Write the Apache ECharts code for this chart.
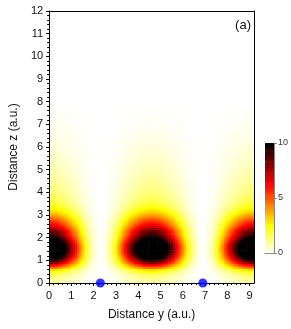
<!DOCTYPE html>
<html><head><meta charset="utf-8">
<script src="https://cdn.jsdelivr.net/npm/echarts@6/dist/echarts.min.js"></script>
<style>html,body{margin:0;padding:0;background:#fff}#c{width:291px;height:329px}</style>
</head><body><div id="c"></div>
<script>
// Intensity along y (a.u.), sampled every 0.1 from 0 to 9.2 (relative, peak = 1)
const yStep = 0.1;
const intensityAlongY = [
 1.00,0.99,0.98,0.96,0.93,0.89,0.84,0.79,0.73,0.67,0.60,0.53,0.47,0.40,0.33,0.27,0.21,0.16,0.11,0.07,0.04,0.02,0.01,0.00,
 0.01,0.02,0.04,0.07,0.11,0.16,0.21,0.27,0.33,0.40,0.47,0.53,0.60,0.67,0.73,0.79,0.84,0.89,0.93,0.96,0.98,0.99,1.00,
 0.99,0.98,0.96,0.93,0.89,0.84,0.79,0.73,0.67,0.60,0.53,0.47,0.40,0.33,0.27,0.21,0.16,0.11,0.07,0.04,0.02,0.01,0.00,
 0.01,0.02,0.04,0.07,0.11,0.16,0.21,0.27,0.33,0.40,0.47,0.53,0.60,0.67,0.73,0.79,0.84,0.89,0.93,0.96,0.98,0.99,1.00
];
// Intensity along z (a.u.) at lobe centre, sampled every 0.1 from 0 to 8
const zStep = 0.1;
const intensityAlongZ = [
 0.8,0.9,1.1,1.3,1.7,2.3,3.1,4.8,6.4,8.0,
 9.3,10.5,11.5,12.3,12.8,13.0,12.9,12.6,12.0,11.2,
 10.3,9.6,9.0,8.6,7.8,7.1,6.4,5.8,5.2,4.6,
 4.0,3.4,3.0,2.6,2.3,2.05,1.85,1.7,1.55,1.45,
 1.35,1.28,1.2,1.13,1.07,1.0,0.95,0.9,0.85,0.8,
 0.75,0.7,0.66,0.62,0.58,0.54,0.5,0.46,0.43,0.4,
 0.37,0.34,0.31,0.28,0.25,0.22,0.2,0.18,0.16,0.14,
 0.12,0.1,0.09,0.08,0.07,0.06,0.05,0.04,0.03,0.01,0.0
];
// Electrode markers on the y axis
const markerY = [2.3, 6.9];
const markerZ = [0, 0];
const xTickLabels = [0,1,2,3,4,5,6,7,8,9];
const colorbarTicks = [0,5,10];
const colorbarLevels = Array.from({length:101},(_,i)=>+(i*0.1).toFixed(1));
const hotReversed = ['#ffffff','#ffff80','#ffff00','#ffaa00','#ff5500','#ff0000','#aa0000','#550000','#000000'];

const field = [];
intensityAlongY.forEach((gy,i)=>{
  intensityAlongZ.forEach((hz,j)=>{
    field.push([+(i*yStep).toFixed(2), +(j*zStep).toFixed(2), gy*hz]);
  });
});

const FONT = 'Liberation Sans, Arial, sans-serif';
const frameAxis = {axisLine:{show:true, onZero:false, lineStyle:{color:'#000', width:1}}, axisTick:{show:false},
  axisLabel:{show:false}, splitLine:{show:false}, z:10};
const chart = echarts.init(document.getElementById('c'), null, {renderer:'canvas'});
chart.setOption({
  animation:false,
  backgroundColor:'#ffffff',
  grid:[
    {left:45, top:11, width:209, height:272, show:false},
    {left:265, top:143, width:9, height:110, show:false}
  ],
  xAxis:[
    {type:'value', gridIndex:0, min:0, max:9.2, interval:1, z:10,
     name:'Distance y (a.u.)', nameLocation:'middle', nameGap:26,
     nameTextStyle:{fontFamily:FONT, fontSize:12, color:'#111'},
     axisLine:{onZero:false, lineStyle:{color:'#000', width:1}},
     axisTick:{show:true, length:3, lineStyle:{color:'#000'}, customValues:xTickLabels},
     minorTick:{show:true, splitNumber:5, length:2, lineStyle:{color:'#000'}},
     axisLabel:{fontFamily:FONT, fontSize:11, color:'#111', margin:7, customValues:xTickLabels},
     splitLine:{show:false}},
    {type:'value', gridIndex:1, min:0, max:1, show:true,
     axisLine:{show:true, onZero:false, lineStyle:{color:'#888'}}, axisTick:{show:false}, axisLabel:{show:false}, splitLine:{show:false}},
    Object.assign({type:'value', gridIndex:0, min:0, max:9.2, position:'top'}, frameAxis)
  ],
  yAxis:[
    {type:'value', gridIndex:0, min:0, max:12, interval:1, z:10,
     name:'Distance z (a.u.)', nameLocation:'middle', nameGap:28,
     nameTextStyle:{fontFamily:FONT, fontSize:12, color:'#111'},
     axisLine:{onZero:false, lineStyle:{color:'#000', width:1}},
     axisTick:{show:true, length:3, lineStyle:{color:'#000'}},
     minorTick:{show:true, splitNumber:5, length:2, lineStyle:{color:'#000'}},
     axisLabel:{fontFamily:FONT, fontSize:11, color:'#111', margin:6},
     splitLine:{show:false}},
    {type:'value', gridIndex:1, min:0, max:10, interval:5, position:'right',
     axisLine:{show:true, onZero:false, lineStyle:{color:'#888'}},
     axisTick:{show:true, length:3, lineStyle:{color:'#888'}},
     axisLabel:{fontFamily:FONT, fontSize:9, color:'#333', margin:4},
     splitLine:{show:false}},
    Object.assign({type:'value', gridIndex:0, min:0, max:12, position:'right'}, frameAxis)
  ],
  visualMap:{type:'continuous', show:false, min:0, max:10, dimension:2, seriesIndex:[0,1],
    inRange:{color:hotReversed}},
  series:[
    {type:'custom', xAxisIndex:0, yAxisIndex:0, data:field, clip:true, progressive:0,
     encode:{x:0,y:1},
     renderItem:function(params, api){
       const y = api.value(0), z = api.value(1);
       const a = api.coord([y - yStep/2, z + zStep/2]);
       const b = api.coord([y + yStep/2, z - zStep/2]);
       return {type:'rect', shape:{x:a[0], y:a[1], width:b[0]-a[0]+0.6, height:b[1]-a[1]+0.6},
         style:{fill:api.visual('color')}};
     }},
    {type:'custom', xAxisIndex:1, yAxisIndex:1, data:colorbarLevels.map(v=>[0,v,v]), clip:true,
     encode:{x:0,y:1},
     renderItem:function(params, api){
       const v = api.value(1);
       const a = api.coord([0, v + 0.05]);
       const b = api.coord([1, v - 0.05]);
       return {type:'rect', shape:{x:a[0], y:a[1], width:b[0]-a[0], height:b[1]-a[1]+0.6},
         style:{fill:api.visual('color')}};
     }},
    {type:'scatter', xAxisIndex:0, yAxisIndex:0, clip:false, z:10,
     data:markerY.map((y,i)=>[y, markerZ[i]]), symbolSize:9,
     itemStyle:{color:'#0000ff'}}
  ],
  graphic:[
    {type:'text', right:40, top:19, style:{text:'(a)', fontFamily:FONT, fontSize:13, fill:'#111'}}
  ]
});
</script></body></html>
